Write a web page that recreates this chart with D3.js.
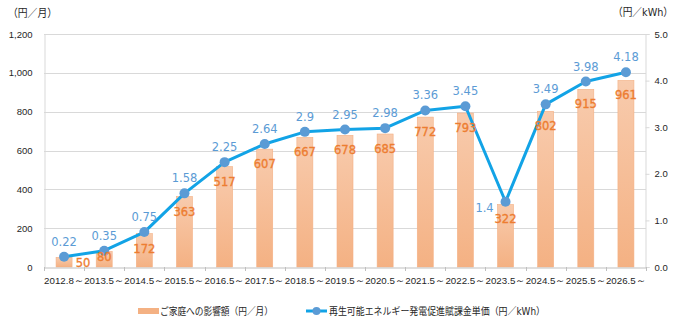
<!DOCTYPE html>
<html><head><meta charset="utf-8">
<script src="https://cdn.jsdelivr.net/npm/d3@7"></script>
<style>
html,body{margin:0;padding:0;background:#fff;}
svg{display:block;font-family:"DejaVu Sans","Noto Sans CJK JP",sans-serif;}
</style></head>
<body><svg id="c" width="680" height="322"></svg>
<script>
const categories = ["2012.8～","2013.5～","2014.5～","2015.5～","2016.5～","2017.5～","2018.5～","2019.5～","2020.5～","2021.5～","2022.5～","2023.5～","2024.5～","2025.5～","2026.5～"];
const impactYenPerMonth = [50,80,172,363,517,607,667,678,685,772,793,322,802,915,961];
const levyYenPerKWh = [0.22,0.35,0.75,1.58,2.25,2.64,2.9,2.95,2.98,3.36,3.45,1.4,3.49,3.98,4.18];
const leftTicks = [0,200,400,600,800,1000,1200];
const rightTicks = [0,1,2,3,4,5];
const barSeriesName = "ご家庭への影響額（円／月）";
const lineSeriesName = "再生可能エネルギー発電促進賦課金単価（円／kWh）";
const leftUnit = "（円／月）";
const rightUnit = "（円／kWh）";

// label nudges (styling, by index)
const barLabelNudge = {0:{dx:19,dy:-9}, 1:{dx:0,dy:-9.5}};
const lineLabelNudge = {11:{dx:-21,dy:21}};

const svg = d3.select("#c");
const L=44, R=646, T=34, B=267;
const x = d3.scaleBand().domain(categories).range([L,R]).padding(0);
const yL = d3.scaleLinear().domain([0,1200]).range([B,T]);
const yR = d3.scaleLinear().domain([0,5]).range([B,T]);

const defs = svg.append("defs");
const g = defs.append("linearGradient").attr("id","bar").attr("x1",0).attr("y1",0).attr("x2",0).attr("y2",1);
g.append("stop").attr("offset","0%").attr("stop-color","#f8cbad");
g.append("stop").attr("offset","100%").attr("stop-color","#f4b183");

// gridlines
svg.append("g").selectAll("line").data(leftTicks.filter(d=>d>0)).join("line")
  .attr("x1",L).attr("x2",R).attr("y1",d=>Math.round(yL(d))+0.5).attr("y2",d=>Math.round(yL(d))+0.5)
  .attr("stroke","#d9d9d9").attr("stroke-width",1);

// left axis
const la = svg.append("g").attr("transform",`translate(${L+0.5},0)`)
  .call(d3.axisLeft(yL).tickValues(leftTicks).tickFormat(d3.format(",")).tickSize(0).tickPadding(12));
la.select(".domain").attr("stroke","#d9d9d9");
la.selectAll("text").attr("font-size",9.5).attr("fill","#262626");

// right axis
const ra = svg.append("g").attr("transform",`translate(${R-0.5},0)`)
  .call(d3.axisRight(yR).tickValues(rightTicks).tickFormat(d3.format(".1f")).tickSize(4).tickPadding(5));
ra.select(".domain").attr("stroke","#d9d9d9");
ra.selectAll(".tick line").attr("stroke","#d9d9d9");
ra.selectAll("text").attr("font-size",9.5).attr("fill","#262626");

// bars
svg.append("g").selectAll("rect").data(impactYenPerMonth).join("rect")
  .attr("x",(d,i)=>x(categories[i])+x.bandwidth()/2-8)
  .attr("width",16)
  .attr("y",d=>yL(d)).attr("height",d=>B-yL(d))
  .attr("fill","url(#bar)").attr("stroke","#f4b084").attr("stroke-width",0.6);

// x axis
const xa = svg.append("g").attr("transform",`translate(0,${B+0.5})`)
  .call(d3.axisBottom(x).tickSize(0).tickPadding(10));
xa.select(".domain").attr("stroke","#bfbfbf");
xa.selectAll("text").attr("font-size",9.5).attr("fill","#262626")
  .attr("textLength",40).attr("lengthAdjust","spacingAndGlyphs");
svg.append("g").selectAll("line").data(d3.range(categories.length+1)).join("line")
  .attr("x1",i=>Math.round(L+i*x.step())+0.5).attr("x2",i=>Math.round(L+i*x.step())+0.5)
  .attr("y1",B).attr("y2",B+4).attr("stroke","#bfbfbf");

// line
const cx = i=>x(categories[i])+x.bandwidth()/2;
svg.append("path").datum(levyYenPerKWh)
  .attr("d",d3.line().x((d,i)=>cx(i)).y(d=>yR(d)))
  .attr("fill","none").attr("stroke","#12a3e6").attr("stroke-width",3).attr("stroke-linejoin","round");
svg.append("g").selectAll("circle").data(levyYenPerKWh).join("circle")
  .attr("cx",(d,i)=>cx(i)).attr("cy",d=>yR(d)).attr("r",5).attr("fill","#5b9bd5");

// bar labels
svg.append("g").selectAll("text").data(impactYenPerMonth).join("text")
  .attr("x",(d,i)=>cx(i)+((barLabelNudge[i]||{}).dx||0))
  .attr("y",(d,i)=>yL(d)+19+((barLabelNudge[i]||{}).dy||0))
  .attr("text-anchor","middle").attr("font-size",11.5)
  .attr("fill","#ed7d31").attr("stroke","#ed7d31").attr("stroke-width",0.35).text(d=>d);

// line labels
svg.append("g").selectAll("text").data(levyYenPerKWh).join("text")
  .attr("x",(d,i)=>cx(i)+((lineLabelNudge[i]||{}).dx||0))
  .attr("y",(d,i)=>yR(d)-11+((lineLabelNudge[i]||{}).dy||0))
  .attr("text-anchor","middle").attr("font-size",11.5)
  .attr("fill","#5b9bd5").text(d=>String(d));

// units
svg.append("text").attr("x",8).attr("y",17).attr("font-size",11).attr("fill","#262626")
  .attr("textLength",49).attr("lengthAdjust","spacingAndGlyphs").text(leftUnit);
svg.append("text").attr("x",613).attr("y",16).attr("font-size",11).attr("fill","#262626")
  .attr("textLength",60).attr("lengthAdjust","spacingAndGlyphs").text(rightUnit);

// legend
const lg = svg.append("g");
lg.append("rect").attr("x",138).attr("y",308).attr("width",21).attr("height",6).attr("fill","#f4b183");
lg.append("text").attr("x",160).attr("y",315).attr("font-size",10).attr("fill","#262626")
  .attr("textLength",113).attr("lengthAdjust","spacingAndGlyphs").text(barSeriesName);
lg.append("line").attr("x1",306).attr("x2",327).attr("y1",311).attr("y2",311).attr("stroke","#12a3e6").attr("stroke-width",3);
lg.append("circle").attr("cx",316.5).attr("cy",311).attr("r",4).attr("fill","#5b9bd5");
lg.append("text").attr("x",329).attr("y",315).attr("font-size",10).attr("fill","#262626")
  .attr("textLength",216).attr("lengthAdjust","spacingAndGlyphs").text(lineSeriesName);
</script></body></html>
